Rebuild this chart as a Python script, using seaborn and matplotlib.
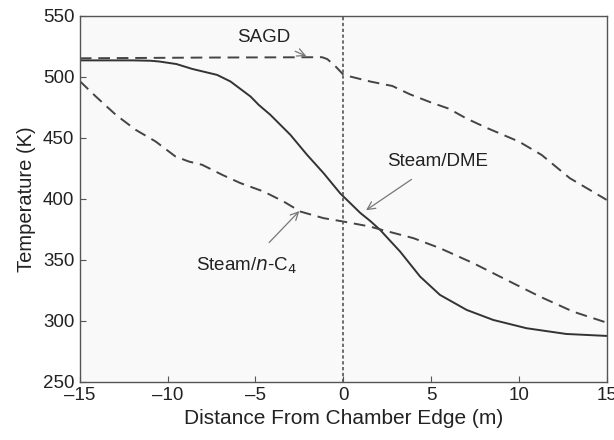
import matplotlib
matplotlib.use("Agg")
import matplotlib.pyplot as plt
import seaborn as sns

# Steam/DME (solid)
dme_x = [-15, -12, -10.97, -10.49, -9.5, -8.6, -7.18, -6.42, -5.28, -4.81, -4.15, -3.01, -2.06,
         -1.12, -0.17, 0.97, 1.53, 2.1, 3.24, 4.38, 5.51, 7.03, 8.54, 10.44, 12.7, 15]
dme_y = [513.5, 513.5, 513.2, 512.6, 510.5, 506.5, 501.6, 496.2, 483.9, 477, 468.9, 452.5, 436.1,
         421.1, 404.5, 388.5, 382, 374.6, 356.8, 336.3, 321.3, 309, 300.8, 294, 289.3, 287.7]

# SAGD (dashed)
sagd_x = [-15, -8, -1.2, -0.9, -0.4, 0.02, 0.78, 1.53, 2.8, 3.8, 5, 6, 7, 8.2, 10, 11.3, 12.9, 15]
sagd_y = [515.2, 515.8, 516.1, 514.5, 508, 501.6, 498.9, 496.2, 492.5, 485.7, 479, 474, 466, 458, 447, 436, 417, 399.2]

# Steam/n-C4 (dashed)
c4_x = [-15, -14.09, -12.95, -11.82, -10.68, -9.55, -8.79, -8.03, -6.89, -5.85, -4.53, -3.39, -2.44,
        -1.12, 0.02, 1.53, 2.1, 4.0, 5.51, 7.41, 9.3, 11.19, 13.09, 15]
c4_y = [496.5, 483.9, 468.9, 456.6, 447, 434.7, 430.6, 427.9, 419.7, 412.9, 406, 397.8, 389.6,
        384.2, 381.4, 377.3, 375, 367.8, 359.6, 347.3, 333.6, 320, 307.6, 298.6]

x_ticks = [-15, -10, -5, 0, 5, 10, 15]
y_ticks = [250, 300, 350, 400, 450, 500, 550]

sns.set_theme(style="white")
plt.rcParams['font.family'] = ['Liberation Sans', 'DejaVu Sans']

fig = plt.figure(figsize=(6.14, 4.4), dpi=100)
fig.patch.set_facecolor('white')
ax = fig.add_axes([0.130, 0.132, 0.858, 0.832])
ax.set_facecolor('#f9f9f9')

sns.lineplot(x=dme_x, y=dme_y, ax=ax, color='#333333', lw=1.4, sort=False)
sns.lineplot(x=sagd_x, y=sagd_y, ax=ax, color='#444444', lw=1.4, sort=False, linestyle=(0, (6, 3.5)))
sns.lineplot(x=c4_x, y=c4_y, ax=ax, color='#444444', lw=1.4, sort=False, linestyle=(0, (6, 3.5)))
ax.axvline(0, color='#555555', lw=1.2, linestyle=(0, (2, 1.5)))

ax.set_xlim(-15, 15)
ax.set_ylim(250, 550)
ax.set_xticks(x_ticks)
ax.set_xticklabels([('\u2013' + str(-t)) if t < 0 else str(t) for t in x_ticks])
ax.set_yticks(y_ticks)
ax.tick_params(axis='both', direction='in', length=4, width=0.8, colors='#555555', labelcolor='#222222', labelsize=13.5, pad=4)
ax.tick_params(top=False, right=False, bottom=True, left=True)
for s in ax.spines.values():
    s.set_color('#555555')
    s.set_linewidth(1.0)

ax.set_xlabel('Distance From Chamber Edge (m)', fontsize=15, color='#222222', labelpad=3)
ax.set_ylabel('Temperature (K)', fontsize=14.5, color='#222222', labelpad=5)

arrow = dict(arrowstyle='->', color='#777777', lw=0.9, mutation_scale=14)
ax.annotate('SAGD', xy=(-2.1, 517), xytext=(-4.5, 532), ha='center', va='center',
            fontsize=13.5, color='#222222', arrowprops=dict(arrow, shrinkA=3, shrinkB=0))
ax.annotate('Steam/DME', xy=(1.3, 390.7), xytext=(5.4, 430.7), ha='center', va='center',
            fontsize=13.5, color='#222222', arrowprops=dict(arrow, shrinkA=8, shrinkB=0))
ax.annotate('Steam/$n$-C$_4$', xy=(-2.5, 390), xytext=(-5.5, 345), ha='center', va='center',
            fontsize=13.5, color='#222222', arrowprops=dict(arrow, shrinkA=10, shrinkB=0))

fig.savefig('out.png', dpi=100)
